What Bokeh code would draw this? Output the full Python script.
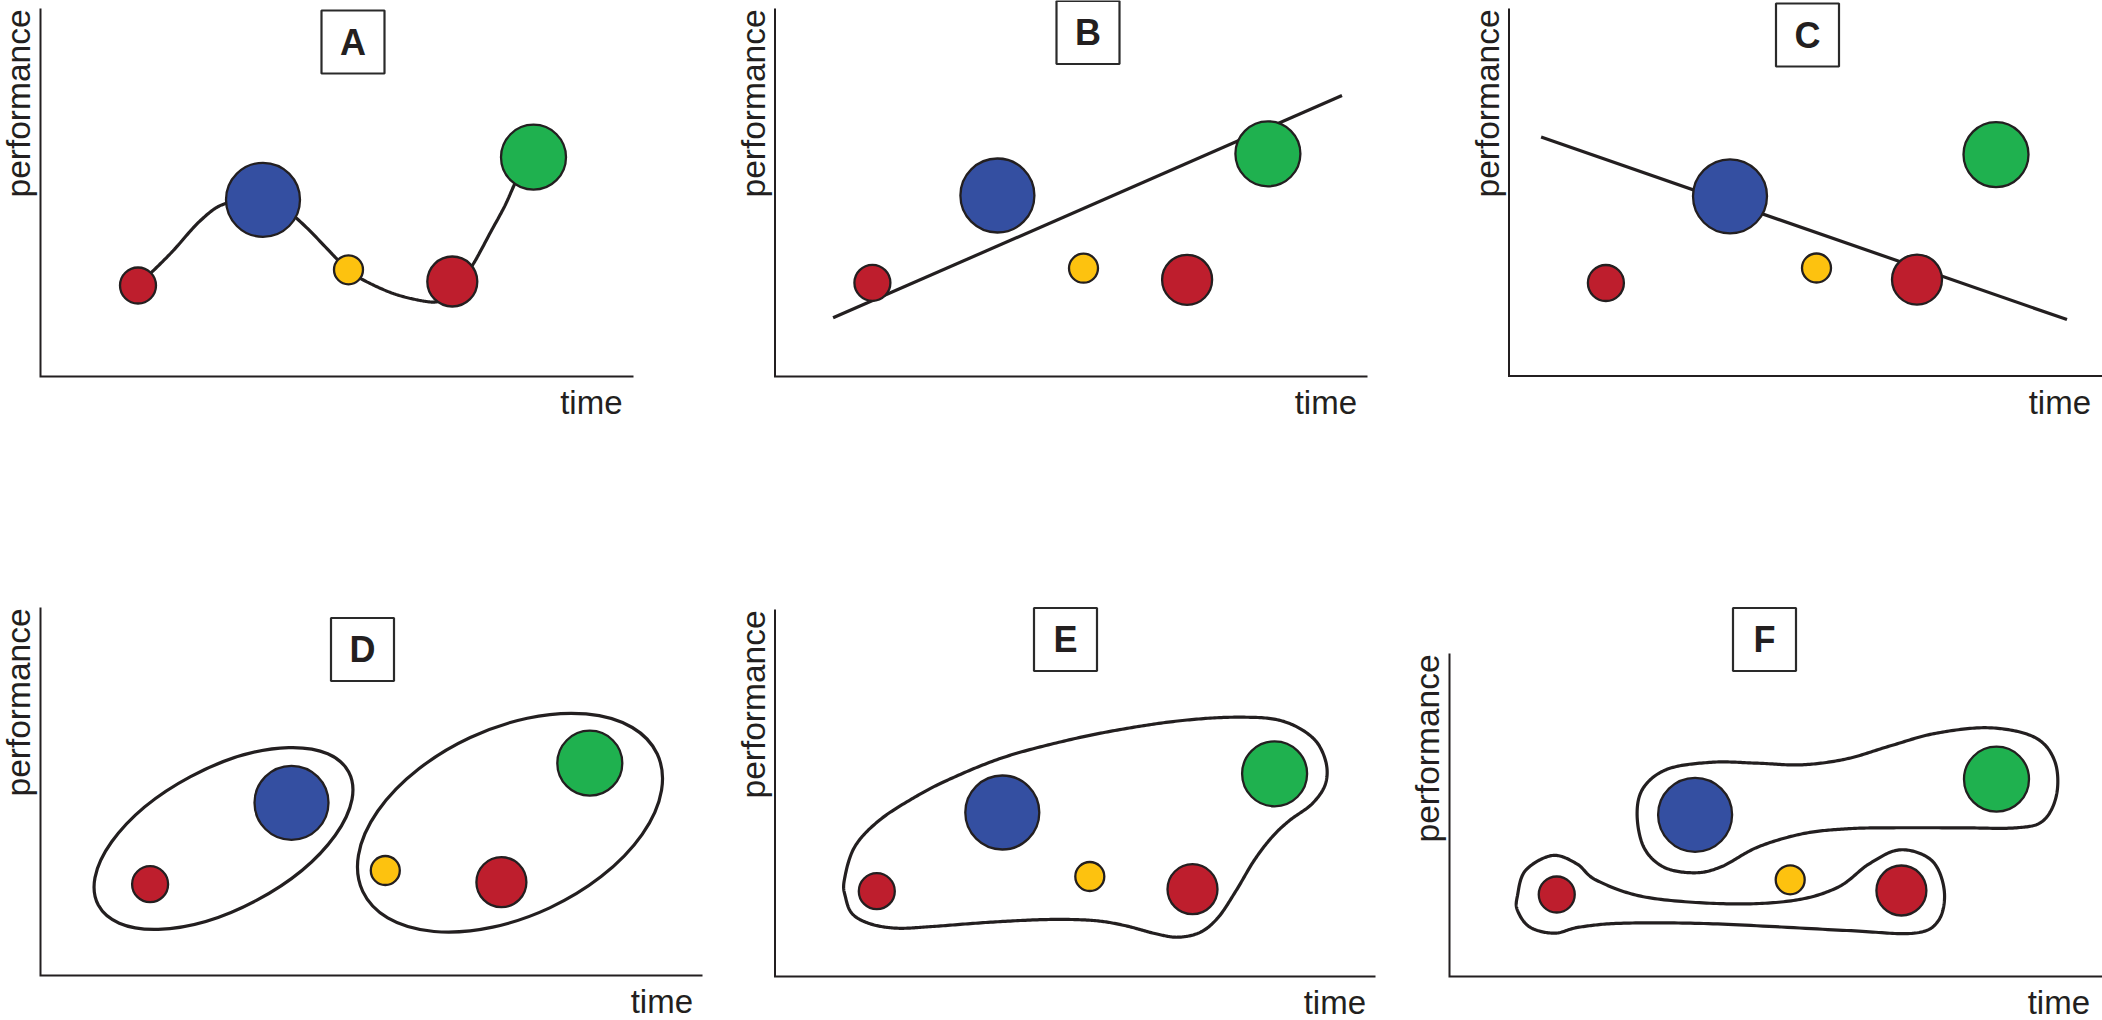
import numpy as np
from bokeh.plotting import figure
from bokeh.models import Range1d
from bokeh.embed import file_html
from bokeh.resources import INLINE
from bokeh.core.properties import value

# ---------------- data (time / performance units, one unit = one pixel) ----------------
team_colors = ["#BE1E2D", "#344FA1", "#FDC20F", "#BE1E2D", "#1FB14F"]
team_radius = [18, 37, 14.5, 25, 32.5]

# Panel A: nonlinear trajectory
a_time = [97.5, 222.5, 308, 411.8, 493]
a_perf = [91, 176.7, 106.7, 95, 219.3]
a_curve_time = [97.5, 130, 160, 185, 222.5, 255, 297, 308, 322, 350, 375, 395, 405, 415, 425, 433,
                451, 464, 473, 480]
a_curve_perf = [91, 123, 156, 173, 177, 159, 117, 107, 97, 84, 77, 74.5, 80, 92, 105, 113,
                146, 170, 190, 206]

# Panel B: rising linear trend
b_time = [97.4, 222.4, 308.5, 412.1, 492.9]
b_perf = [93.7, 181, 108.3, 96.7, 222.7]
b_line_time = [58.1, 567]
b_line_perf = [58.7, 281]

# Panel C: falling linear trend
c_time = [96.9, 221, 307.5, 408, 487]
c_perf = [93, 179.7, 108, 96.4, 221.4]
c_line_time = [32.1, 558]
c_line_perf = [239, 56.4]

# Panel D: two elliptical clusters
d_time = [109.6, 251, 344.8, 460.9, 549.3]
d_perf = [91.3, 172.7, 105, 93.3, 212.3]
d_group_time = [183, 469.5]
d_group_perf = [137, 152.8]
d_group_width = [283.6, 325]
d_group_height = [140.4, 188]
d_group_angle = [28, 25]

# Panel E: one cluster
e_time = [101.8, 227.3, 314.8, 417.5, 499.6]
e_perf = [85.3, 164, 100, 87.3, 202.7]
e_outline_time = [69.25, 79.5, 104.1, 139.8, 175.5, 229.1, 291.5, 349.5, 407.5, 461.2, 505.5, 537.1,
                  550.5, 550.5, 537.1, 514.5, 496.9, 479.1, 461.2, 443.4, 425.5, 403.2, 380.9, 349.5,
                  318.4, 273.5, 215.5, 157.5, 121.9, 95.1, 77.3, 70.5]
e_outline_perf = [96, 129.3, 156, 179.3, 197.7, 219.3, 236, 247.7, 256, 259.3, 256, 239.3,
                  216, 192.7, 172.7, 156, 139.3, 116, 86, 59.3, 44.3, 39.3, 42.7, 51,
                  56, 57, 54.3, 50, 48.3, 52.7, 62.7, 79.3]

# Panel F: two clusters
f_time = [107.25, 245.6, 340.7, 451.9, 547]
f_perf = [82, 161.7, 96.7, 86, 197.3]
f_upper_time = [187.6, 194.3, 218.9, 263.5, 308, 352.8, 397.4, 442, 486.7, 540.3, 584.9, 605,
                607.25, 593.9, 567, 509, 442, 397.4, 352.8, 308, 272.4, 245.6, 214.4, 194.3]
f_upper_perf = [162.7, 189.3, 207.7, 214.3, 213.3, 211.7, 217.7, 231, 243.3, 248.7, 239.3, 216,
                182.7, 156, 148.7, 148.7, 148.7, 147.7, 142.7, 129.3, 110, 103.7, 109.3, 129.3]
f_lower_time = [68, 76, 102.8, 127.3, 147.4, 196.5, 276.9, 343.9, 388.5, 419.75, 451, 482.25,
                494.75, 489, 464.4, 397.4, 263.5, 174.2, 129.6, 105, 80.5, 68]
f_lower_perf = [81, 106, 121, 112.7, 96, 79.3, 72.7, 76, 89.3, 112.7, 126.7, 116,
                86, 56, 43.3, 46, 52.7, 53.3, 49.3, 43.3, 49.3, 66]

# ---------------- layout (page pixels) ----------------
PAGE_W, PAGE_H = 2102, 1020
panels = {
    "A": dict(ox=40, oy=376, top=8, right=633, box=(352.5, 41.5), time_right=620.5),
    "B": dict(ox=774.5, oy=376, top=8, right=1367, box=(1087.5, 32.0), time_right=1355),
    "C": dict(ox=1508.5, oy=375.5, top=8, right=2102, box=(1807, 34.5), time_right=2089),
    "D": dict(ox=40, oy=975, top=607, right=702, box=(362, 649), time_right=691),
    "E": dict(ox=774.5, oy=976, top=609, right=1375, box=(1065, 639), time_right=1364),
    "F": dict(ox=1449, oy=976, top=653, right=2102, box=(1764, 639), time_right=2088),
}

INK = "#231F20"
FONT = "Liberation Sans"


def catmull(xs, ys, closed=False, n=24):
    P = np.column_stack([xs, ys]).astype(float)
    if closed:
        P = np.vstack([P[-1], P, P[0], P[1]])
    else:
        P = np.vstack([2 * P[0] - P[1], P, 2 * P[-1] - P[-2]])
    out = []
    for i in range(1, len(P) - 2):
        p0, p1, p2, p3 = P[i - 1], P[i], P[i + 1], P[i + 2]
        for t in np.linspace(0, 1, n, endpoint=False):
            t2, t3 = t * t, t * t * t
            out.append(0.5 * ((2 * p1) + (-p0 + p2) * t + (2 * p0 - 5 * p1 + 4 * p2 - p3) * t2
                              + (-p0 + 3 * p1 - 3 * p2 + p3) * t3))
    out.append(P[-2])
    out = np.array(out)
    return out[:, 0], out[:, 1]


p = figure(width=PAGE_W, height=PAGE_H, x_range=Range1d(0, PAGE_W), y_range=Range1d(0, PAGE_H),
           output_backend="svg", toolbar_location=None, x_axis_location=None,
           y_axis_location=None, min_border=0)
p.grid.grid_line_color = None
p.outline_line_color = None
p.background_fill_color = "white"


def X(key, t):
    return panels[key]["ox"] + np.asarray(t, float)


def Y(key, v):
    return (PAGE_H - panels[key]["oy"]) + np.asarray(v, float)


# axes, labels and title boxes
for key, L in panels.items():
    p.line([L["ox"], L["ox"], L["right"]],
           [PAGE_H - L["top"], PAGE_H - L["oy"], PAGE_H - L["oy"]],
           line_color=INK, line_width=2, line_join="miter")
    p.text([L["ox"] - 22], [PAGE_H - (L["top"] + 189)], text=["performance"], angle=np.pi / 2,
           text_font=value(FONT), text_font_size="33.5px", text_align="left",
           text_baseline="alphabetic", text_color=INK)
    p.text([L["time_right"] + 1.5], [PAGE_H - (L["oy"] + 26)], text=["time"],
           text_font=value(FONT), text_font_size="33px", text_align="right",
           text_baseline="alphabetic", text_color=INK)
    bx, by = L["box"]
    p.rect([bx], [PAGE_H - by], width=63, height=63, fill_color="white",
           line_color="#2a2a2a", line_width=2.2)
    p.text([bx], [PAGE_H - by], text=[key], text_font=value(FONT),
           text_font_size="36px", text_font_style="bold", text_align="center",
           text_baseline="alphabetic", text_color=INK)

# trend lines / outlines
cx, cy = catmull(X("A", a_curve_time), Y("A", a_curve_perf))
p.line(cx, cy, line_color=INK, line_width=3.2, line_cap="round")
p.line(X("B", b_line_time), Y("B", b_line_perf), line_color=INK, line_width=3.2)
p.line(X("C", c_line_time), Y("C", c_line_perf), line_color=INK, line_width=3.2)
p.ellipse(X("D", d_group_time), Y("D", d_group_perf), width=d_group_width, height=d_group_height,
          angle=np.radians(d_group_angle), fill_color=None, line_color=INK, line_width=3.2)
ex, ey = catmull(X("E", e_outline_time), Y("E", e_outline_perf), closed=True)
p.line(ex, ey, line_color=INK, line_width=3.2, line_join="round")
ux, uy = catmull(X("F", f_upper_time), Y("F", f_upper_perf), closed=True)
p.line(ux, uy, line_color=INK, line_width=3.2, line_join="round")
lx, ly = catmull(X("F", f_lower_time), Y("F", f_lower_perf), closed=True)
p.line(lx, ly, line_color=INK, line_width=3.2, line_join="round")

# teams
for key, tt, pp in [("A", a_time, a_perf), ("B", b_time, b_perf), ("C", c_time, c_perf),
                    ("D", d_time, d_perf), ("E", e_time, e_perf), ("F", f_time, f_perf)]:
    p.circle(X(key, tt), Y(key, pp), radius=team_radius, fill_color=team_colors,
             line_color=INK, line_width=2.3)

open("out.html", "w").write(file_html(p, INLINE))
